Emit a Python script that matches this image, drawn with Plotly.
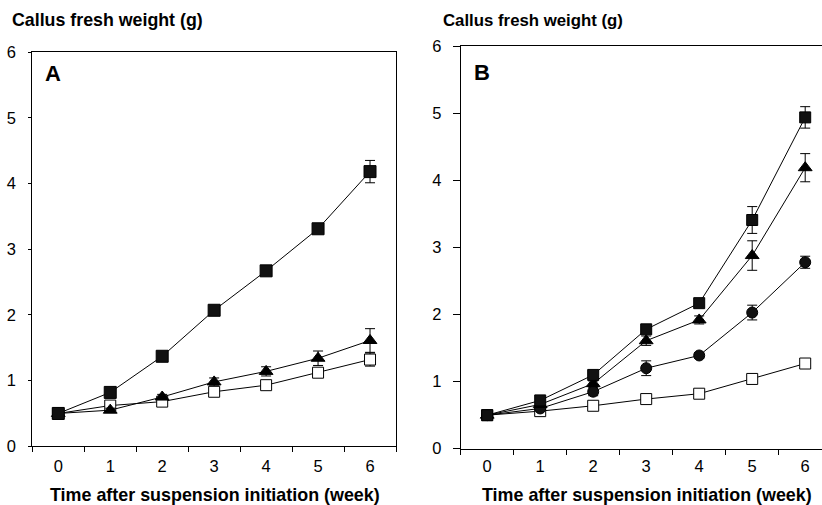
import plotly.graph_objects as go

weeks = [0, 1, 2, 3, 4, 5, 6]

# Panel A
a_filled_sq = [0.50, 0.82, 1.37, 2.07, 2.67, 3.31, 4.18]
a_filled_sq_err = [0, 0.02, 0.03, 0.06, 0.03, 0.03, 0.17]
a_triangle = [0.50, 0.55, 0.75, 0.98, 1.14, 1.34, 1.61]
a_triangle_err = [0, 0.03, 0.04, 0.06, 0.07, 0.11, 0.18]
a_open_sq = [0.50, 0.62, 0.68, 0.83, 0.93, 1.12, 1.32]
a_open_sq_err = [0, 0.03, 0.03, 0.04, 0.04, 0.05, 0.10]

# Panel B
b_filled_sq = [0.50, 0.72, 1.10, 1.78, 2.17, 3.41, 4.94]
b_filled_sq_err = [0, 0.03, 0.05, 0.06, 0.05, 0.20, 0.16]
b_triangle = [0.50, 0.66, 0.97, 1.61, 1.92, 2.88, 4.19]
b_triangle_err = [0, 0.03, 0.04, 0.07, 0.06, 0.22, 0.21]
b_circle = [0.50, 0.60, 0.85, 1.20, 1.39, 2.03, 2.78]
b_circle_err = [0, 0.03, 0.06, 0.11, 0.04, 0.11, 0.09]
b_open_sq = [0.50, 0.56, 0.64, 0.74, 0.82, 1.04, 1.27]
b_open_sq_err = [0, 0.02, 0.03, 0.03, 0.03, 0.04, 0.04]

y_ticks = [0, 1, 2, 3, 4, 5, 6]
panel_labels = ["A", "B"]
y_title = "Callus fresh weight (g)"
x_title = "Time after suspension initiation (week)"

FONT = "Liberation Sans, Arial, sans-serif"
W, H = 822, 505

fig = go.Figure()


def add_series(y, err, symbol, fill, size, xa, ya):
    fig.add_trace(go.Scatter(
        x=weeks, y=y, mode="lines+markers",
        line=dict(color="black", width=1),
        marker=dict(symbol=symbol, size=size, color=fill,
                    line=dict(color="black", width=1)),
        error_y=dict(type="data", array=err, visible=True, color="black",
                     thickness=1, width=5),
        xaxis=xa, yaxis=ya, showlegend=False, cliponaxis=False,
    ))


# Panel A (draw order: open, triangle, filled)
add_series(a_open_sq, a_open_sq_err, "square", "white", 11, "x", "y")
add_series(a_triangle, a_triangle_err, "triangle-up", "black", 12, "x", "y")
add_series(a_filled_sq, a_filled_sq_err, "square", "#111111", 12, "x", "y")

# Panel B
add_series(b_open_sq, b_open_sq_err, "square", "white", 11, "x2", "y2")
add_series(b_circle, b_circle_err, "circle", "#111111", 11, "x2", "y2")
add_series(b_triangle, b_triangle_err, "triangle-up", "black", 12, "x2", "y2")
add_series(b_filled_sq, b_filled_sq_err, "square", "#111111", 11, "x2", "y2")


def px_x(p):
    return p / W


def px_y(p):
    return (H - p) / H


xa_common = dict(
    tickvals=weeks, ticks="", showgrid=False, zeroline=False, automargin=False,
    showline=True, linecolor="black", linewidth=1,
    tickfont=dict(family=FONT, size=16.5, color="black"),
    minor=dict(tick0=-0.5, dtick=1, ticks="outside", ticklen=5,
               tickcolor="black", tickwidth=1, showgrid=False),
)
ya_common = dict(
    range=[0, 6], tickvals=y_ticks, showgrid=False, zeroline=False, automargin=False,
    showline=True, linecolor="black", linewidth=1,
    ticks="outside", tickcolor="black", tickwidth=1,
    tickfont=dict(family=FONT, size=16.5, color="black"),
)

fig.update_layout(
    width=W, height=H, margin=dict(l=0, r=0, t=0, b=0),
    paper_bgcolor="white", plot_bgcolor="white",
    xaxis=dict(domain=[px_x(32.3), px_x(396)], range=[-0.5, 6.5],
               mirror=True, anchor="y", ticklabelstandoff=5, **xa_common),
    yaxis=dict(domain=[px_y(446.3), px_y(52)], mirror=True, anchor="x",
               ticklen=3, ticklabelstandoff=9, **ya_common),
    xaxis2=dict(domain=[px_x(460.7), 1.0],
                range=[-0.5, -0.5 + (W - 460.7) / 53.0],
                mirror=True, anchor="y2", ticklabelstandoff=2, **xa_common),
    yaxis2=dict(domain=[px_y(448.7), px_y(46.3)], mirror=False, anchor="x2",
                ticklen=7, ticklabelstandoff=8, **ya_common),
)

annotations = [
    dict(text=y_title, x=px_x(10), y=px_y(20), xanchor="left", yanchor="middle",
         font=dict(family=FONT, size=17.8, color="black"), bold=True),
    dict(text=y_title, x=px_x(441), y=px_y(20), xanchor="left", yanchor="middle",
         font=dict(family=FONT, size=16.8, color="black"), bold=True),
    dict(text=x_title, x=px_x(214.5), y=px_y(495), xanchor="center", yanchor="middle",
         font=dict(family=FONT, size=17.9, color="black"), bold=True),
    dict(text=x_title, x=px_x(646.7), y=px_y(495), xanchor="center", yanchor="middle",
         font=dict(family=FONT, size=17.9, color="black"), bold=True),
    dict(text=panel_labels[0], x=px_x(43), y=px_y(73), xanchor="left", yanchor="middle",
         font=dict(family=FONT, size=22, color="black"), bold=True),
    dict(text=panel_labels[1], x=px_x(472), y=px_y(72), xanchor="left", yanchor="middle",
         font=dict(family=FONT, size=22, color="black"), bold=True),
]
for a in annotations:
    bold = a.pop("bold")
    if bold:
        a["text"] = "<b>" + a["text"] + "</b>"
    a.update(xref="paper", yref="paper", showarrow=False)
    fig.add_annotation(**a)

fig.write_html("out.html")
